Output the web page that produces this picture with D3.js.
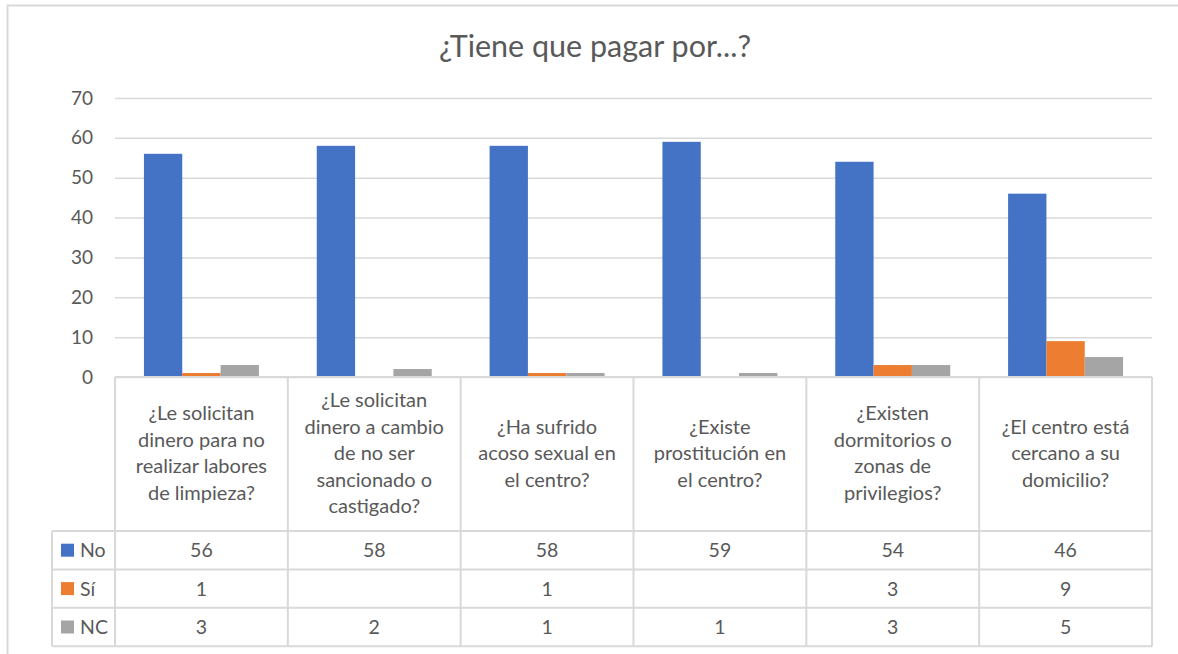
<!DOCTYPE html>
<html>
<head>
<meta charset="utf-8">
<script src="https://cdn.jsdelivr.net/npm/d3@7"></script>
<style>
  html, body { margin: 0; padding: 0; background: #fff; }
  svg { display: block; }
  text { font-family: Lato, "Open Sans", sans-serif; fill: #595959; }
</style>
</head>
<body>
<svg id="chart" width="1178" height="654"></svg>
<script>
// Survey answers per question
const categories = [
  ["¿Le solicitan", "dinero para no", "realizar labores", "de limpieza?"],
  ["¿Le solicitan", "dinero a cambio", "de no ser", "sancionado o", "castigado?"],
  ["¿Ha sufrido", "acoso sexual en", "el centro?"],
  ["¿Existe", "prostitución en", "el centro?"],
  ["¿Existen", "dormitorios o", "zonas de", "privilegios?"],
  ["¿El centro está", "cercano a su", "domicilio?"]
];
const seriesNames = ["No", "Sí", "NC"];
const seriesColors = ["#4472C4", "#ED7D31", "#A5A5A5"];
const valuesNo = [56, 58, 58, 59, 54, 46];
const valuesSi = [1, null, 1, null, 3, 9];
const valuesNC = [3, 2, 1, 1, 3, 5];
const yTicks = [0, 10, 20, 30, 40, 50, 60, 70];
const title = "¿Tiene que pagar por...?";

const seriesValues = [valuesNo, valuesSi, valuesNC];

const svg = d3.select("#chart");
const gridColor = "#d9d9d9";

// chart frame
svg.append("path")
  .attr("d", "M7.5,654 V5.5 H1178")
  .attr("fill", "none").attr("stroke", gridColor).attr("stroke-width", 2);

// title
svg.append("text")
  .attr("x", 595).attr("y", 57)
  .attr("text-anchor", "middle")
  .style("font-size", "30.5px")
  .text(title);

const plotLeft = 115, plotRight = 1152, plotTop = 98, plotBottom = 377;

const x = d3.scaleBand()
  .domain(d3.range(categories.length))
  .range([plotLeft, plotRight])
  .paddingInner(0).paddingOuter(0);

const xInner = d3.scaleBand()
  .domain(d3.range(seriesNames.length))
  .range([0, x.bandwidth()])
  .paddingInner(0).paddingOuter(0.755);

const y = d3.scaleLinear().domain([0, 70]).range([plotBottom, plotTop]);

// gridlines + tick labels
const yAxis = d3.axisLeft(y).tickValues(yTicks).tickSize(-(plotRight - plotLeft)).tickPadding(22);
const gy = svg.append("g").attr("transform", `translate(${plotLeft},0)`).call(yAxis);
gy.select(".domain").remove();
gy.selectAll(".tick line").attr("stroke", gridColor).attr("stroke-width", 1.5);
gy.selectAll(".tick text").style("font-size", "19px").attr("fill", "#595959")
  .style("font-family", "Lato, 'Open Sans', sans-serif");

// bars
seriesValues.forEach((vals, si) => {
  svg.append("g").selectAll("rect")
    .data(vals.map((v, ci) => ({ v, ci })).filter(d => d.v != null))
    .join("rect")
    .attr("x", d => x(d.ci) + xInner(si))
    .attr("width", xInner.bandwidth())
    .attr("y", d => y(d.v))
    .attr("height", d => plotBottom - y(d.v))
    .attr("fill", seriesColors[si]);
});

// data table
const tableLeft = 52;
const headerBottom = 531;
const rowH = 38.4;
const tableBottom = headerBottom + rowH * seriesNames.length;
const tbl = svg.append("g").attr("stroke", gridColor).attr("stroke-width", 2).attr("fill", "none");

// horizontal rules
tbl.append("line").attr("x1", plotLeft).attr("x2", plotRight).attr("y1", plotBottom).attr("y2", plotBottom);
for (let r = 0; r <= seriesNames.length; r++) {
  const yy = headerBottom + r * rowH;
  tbl.append("line").attr("x1", tableLeft).attr("x2", plotRight).attr("y1", yy).attr("y2", yy);
}
// vertical rules
tbl.append("line").attr("x1", tableLeft).attr("x2", tableLeft).attr("y1", headerBottom).attr("y2", tableBottom);
for (let c = 0; c <= categories.length; c++) {
  const xx = c < categories.length ? x(c) : plotRight;
  tbl.append("line").attr("x1", xx).attr("x2", xx).attr("y1", plotBottom).attr("y2", tableBottom);
}

// category labels
const lineH = 26.5;
categories.forEach((lines, ci) => {
  const cx = x(ci) + x.bandwidth() / 2;
  const cy = (plotBottom + headerBottom) / 2;
  const startY = cy - (lines.length - 1) * lineH / 2 + 6;
  const t = svg.append("text")
    .attr("text-anchor", "middle")
    .style("font-size", "20px");
  lines.forEach((ln, li) => {
    t.append("tspan").attr("x", cx).attr("y", startY + li * lineH).text(ln);
  });
});

// legend keys and values
seriesNames.forEach((name, si) => {
  const rowTop = headerBottom + si * rowH;
  const cyRow = rowTop + rowH / 2;
  svg.append("rect")
    .attr("x", 61).attr("y", cyRow - 6.5).attr("width", 13).attr("height", 13)
    .attr("fill", seriesColors[si]);
  svg.append("text")
    .attr("x", 80).attr("y", cyRow + 7)
    .style("font-size", "19.5px")
    .text(name);
  seriesValues[si].forEach((v, ci) => {
    if (v == null) return;
    svg.append("text")
      .attr("x", x(ci) + x.bandwidth() / 2).attr("y", cyRow + 7)
      .attr("text-anchor", "middle")
      .style("font-size", "19.5px")
      .text(v);
  });
});
</script>
</body>
</html>
